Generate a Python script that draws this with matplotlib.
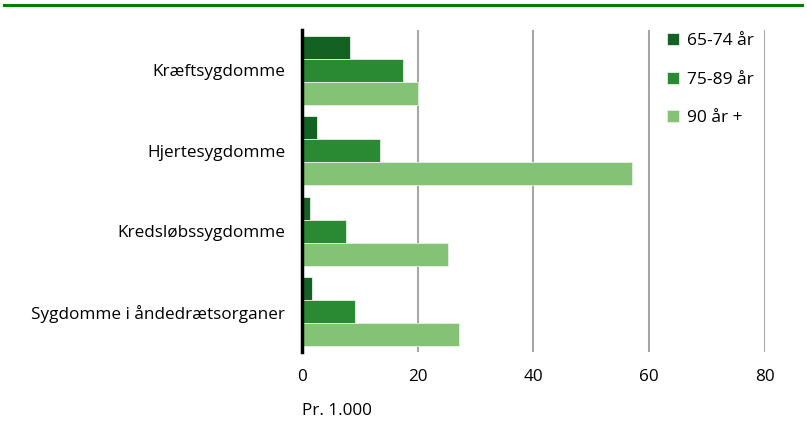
import numpy as np
import matplotlib.pyplot as plt
from matplotlib.lines import Line2D

plt.rcParams['font.family'] = ['Open Sans', 'DejaVu Sans']

categories = ['Kræftsygdomme', 'Hjertesygdomme', 'Kredsløbssygdomme', 'Sygdomme i åndedrætsorganer']
series = ['65-74 år', '75-89 år', '90 år +']
v_65_74 = [8.3, 2.6, 1.4, 1.7]
v_75_89 = [17.4, 13.5, 7.6, 9.2]
v_90 = [20.0, 57.0, 25.2, 27.1]
colors = ['#146124', '#2a8a33', '#84c276']

fig = plt.figure(figsize=(8.07, 4.23), dpi=100)
ax = fig.add_axes([0.374, 0.168, 0.574, 0.761])

y = np.arange(len(categories))
h = 0.285
for i, (vals, c, lab) in enumerate(zip([v_65_74, v_75_89, v_90], colors, series)):
    ax.barh(y + (i - 1) * h, vals, height=h, color=c, label=lab,
            edgecolor='#e6f0e4', linewidth=0.6, zorder=3)

fs = 12.3
ax.set_ylim(len(categories) - 0.5, -0.5)
ax.set_xlim(0, 80)
ax.set_xticks([0, 20, 40, 60, 80])
ax.set_yticks(y)
ax.set_yticklabels(categories, fontsize=fs)
ax.tick_params(axis='x', labelsize=fs, length=0, pad=12)
ax.tick_params(axis='y', length=0, pad=12)

for s in ['top', 'right', 'bottom']:
    ax.spines[s].set_visible(False)
ax.spines['left'].set_linewidth(2.5)
ax.spines['left'].set_zorder(5)

ax.grid(axis='x', color='#a6a6a6', linewidth=1.5, zorder=0)
ax.grid(axis='y', visible=False)

ax.text(0.0, -0.185, 'Pr. 1.000', transform=ax.transAxes, fontsize=fs, va='center', ha='left')

ax.legend(loc='upper left', bbox_to_anchor=(0.755, 1.04), frameon=False, fontsize=12.5,
          handlelength=0.7, handleheight=0.7, handletextpad=0.45, labelspacing=1.3)

fig.add_artist(Line2D([0.005, 0.994], [0.988, 0.988], color='#008000', linewidth=2.2,
                      transform=fig.transFigure))

fig.savefig('out.png', dpi=100)
